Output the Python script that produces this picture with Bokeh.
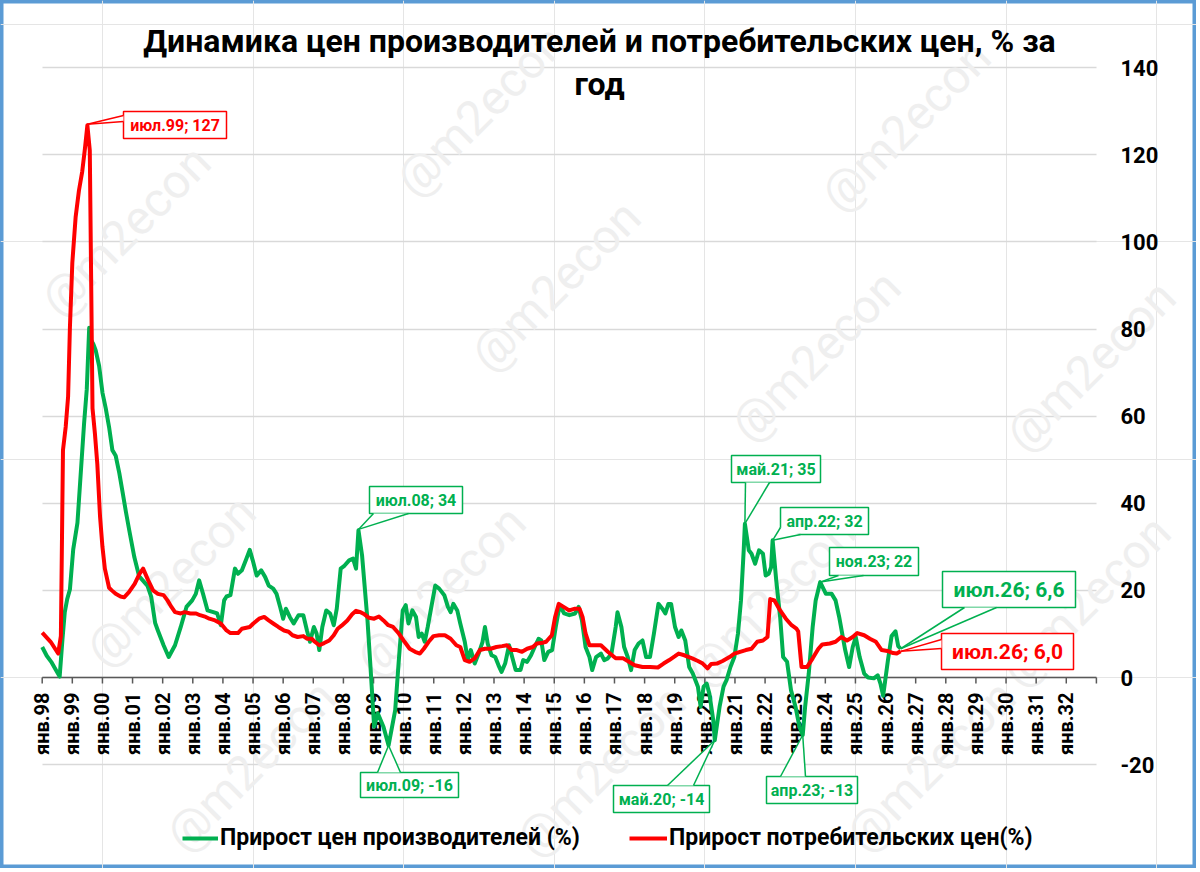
import math
from bokeh.plotting import figure
from bokeh.models import Range1d, Grid, FixedTicker, Legend, LegendItem
from bokeh.core.properties import value
from bokeh.embed import file_html
from bokeh.resources import INLINE

# ---------------- data ----------------
ppi_dates = [1998.00, 1998.15, 1998.30, 1998.45, 1998.58, 1998.67, 1998.75, 1998.83, 1998.92, 1999.03,
             1999.17, 1999.28, 1999.39, 1999.48, 1999.56, 1999.62, 1999.70, 1999.78, 1999.89, 2000.00,
             2000.11, 2000.22, 2000.33, 2000.44, 2000.56, 2000.67, 2000.78, 2000.89, 2001.06, 2001.22,
             2001.39, 2001.50, 2001.62, 2001.75, 2001.84, 2002.03, 2002.20, 2002.41, 2002.60, 2002.79,
             2002.98, 2003.10, 2003.21, 2003.34, 2003.49, 2003.68, 2003.81, 2003.93, 2004.04, 2004.12,
             2004.25, 2004.40, 2004.50, 2004.63, 2004.76, 2004.89, 2004.99, 2005.12, 2005.27, 2005.40,
             2005.52, 2005.67, 2005.78, 2005.90, 2006.00, 2006.09, 2006.22, 2006.35, 2006.51, 2006.67,
             2006.79, 2006.89, 2007.02, 2007.11, 2007.20, 2007.30, 2007.43, 2007.56, 2007.68, 2007.78,
             2007.91, 2008.04, 2008.19, 2008.32, 2008.42, 2008.50, 2008.62, 2008.80, 2008.90, 2009.02,
             2009.14, 2009.33, 2009.50, 2009.72, 2009.84, 2009.97, 2010.07, 2010.16, 2010.29, 2010.41,
             2010.50, 2010.60, 2010.70, 2010.80, 2010.92, 2011.05, 2011.18, 2011.35, 2011.47, 2011.56,
             2011.65, 2011.78, 2011.88, 2012.03, 2012.13, 2012.23, 2012.36, 2012.49, 2012.62, 2012.70,
             2012.79, 2012.92, 2013.04, 2013.15, 2013.25, 2013.37, 2013.50, 2013.63, 2013.72, 2013.88,
             2013.97, 2014.10, 2014.23, 2014.35, 2014.48, 2014.57, 2014.67, 2014.80, 2014.93, 2015.05,
             2015.18, 2015.33, 2015.50, 2015.69, 2015.81, 2015.92, 2016.04, 2016.17, 2016.26, 2016.39,
             2016.55, 2016.66, 2016.78, 2016.90, 2017.04, 2017.10, 2017.23, 2017.32, 2017.44, 2017.55,
             2017.67, 2017.80, 2017.93, 2018.05, 2018.18, 2018.31, 2018.46, 2018.59, 2018.69, 2018.79,
             2018.88, 2019.01, 2019.13, 2019.22, 2019.35, 2019.48, 2019.60, 2019.77, 2019.86, 2019.96,
             2020.06, 2020.15, 2020.28, 2020.33, 2020.49, 2020.62, 2020.72, 2020.85, 2020.98, 2021.10,
             2021.20, 2021.29, 2021.33, 2021.46, 2021.55, 2021.67, 2021.80, 2021.93, 2022.02, 2022.12,
             2022.20, 2022.25, 2022.37, 2022.50, 2022.60, 2022.73, 2022.86, 2023.01, 2023.14, 2023.25,
             2023.33, 2023.45, 2023.58, 2023.68, 2023.83, 2024.02, 2024.21, 2024.34, 2024.46, 2024.66,
             2024.79, 2024.91, 2025.01, 2025.14, 2025.29, 2025.42, 2025.61, 2025.74, 2025.83, 2025.92,
             2026.08, 2026.20, 2026.33, 2026.42, 2026.50]
ppi_values = [7.0, 5.0, 3.6, 1.8, 0.2, 8.5, 15.0, 18.0, 20.2, 29.4,
              35.5, 46.9, 58.3, 66.2, 80.3, 77.5, 76.5, 75.0, 71.5, 65.4,
              61.8, 57.5, 52.2, 50.9, 46.9, 42.5, 38.0, 33.8, 27.6, 23.2,
              21.9, 21.0, 18.5, 12.5, 10.8, 7.4, 4.7, 7.4, 11.6, 16.2,
              17.7, 19.2, 22.3, 19.2, 15.4, 15.0, 14.7, 12.0, 17.7, 18.6,
              18.9, 25.0, 23.8, 24.6, 26.9, 29.3, 26.9, 23.4, 24.6, 23.1,
              21.1, 20.4, 19.2, 16.2, 13.5, 15.8, 13.9, 12.4, 14.3, 14.3,
              10.8, 8.2, 11.6, 10.1, 6.3, 11.6, 15.4, 14.7, 12.0, 15.8,
              25.0, 25.7, 26.9, 27.3, 25.0, 33.8, 28.0, 13.1, 2.4, -11.3,
              -8.2, -11.3, -15.6, -7.5, 4.0, 15.4, 16.6, 12.4, 15.4, 13.9,
              9.3, 10.1, 8.2, 11.6, 16.2, 21.1, 20.4, 18.9, 16.2, 15.0,
              16.9, 15.4, 12.4, 8.2, 4.0, 6.3, 3.2, 5.5, 8.2, 11.6,
              7.8, 5.1, 4.7, 2.8, 1.3, 3.2, 7.4, 4.0, 1.7, 1.7,
              4.0, 3.6, 5.1, 7.0, 8.9, 8.5, 4.0, 5.9, 6.3, 11.6,
              16.6, 14.7, 14.3, 14.7, 16.2, 13.1, 7.0, 4.7, 1.7, 4.7,
              5.5, 4.0, 4.4, 5.5, 11.6, 15.0, 11.6, 7.0, 4.7, 1.7,
              6.3, 7.8, 8.5, 4.7, 4.7, 10.1, 16.9, 15.8, 14.7, 16.9,
              16.9, 11.6, 9.3, 10.8, 8.5, 2.4, 0.9, -2.1, -6.7, -2.1,
              -1.4, -3.7, -9.8, -14.4, -6.7, -2.1, -0.6, 2.4, 4.7, 10.1,
              17.7, 29.2, 35.3, 29.2, 28.4, 26.1, 29.2, 28.4, 23.4, 23.8,
              25.3, 31.5, 22.3, 13.9, 4.7, 3.6, -2.9, -6.7, -11.3, -13.2,
              -6.7, 0.9, 11.6, 17.7, 21.9, 19.2, 19.2, 17.7, 13.9, 6.3,
              2.4, 7.0, 9.3, 4.7, 0.9, 0.0, -0.2, 0.5, -1.4, -4.2,
              4.0, 9.5, 10.6, 7.2, 6.6]

cpi_dates = [1998.00, 1998.28, 1998.53, 1998.62, 1998.69, 1998.78, 1998.86, 1998.92, 1999.00, 1999.11,
             1999.22, 1999.33, 1999.42, 1999.50, 1999.58, 1999.67, 1999.75, 1999.83, 1999.92, 2000.00,
             2000.08, 2000.22, 2000.31, 2000.44, 2000.60, 2000.72, 2000.88, 2001.07, 2001.23, 2001.35,
             2001.52, 2001.68, 2001.84, 2002.03, 2002.16, 2002.29, 2002.41, 2002.60, 2002.73, 2002.92,
             2003.11, 2003.24, 2003.43, 2003.55, 2003.74, 2003.93, 2004.12, 2004.25, 2004.50, 2004.63,
             2004.89, 2005.01, 2005.20, 2005.37, 2005.52, 2005.67, 2005.84, 2006.03, 2006.18, 2006.31,
             2006.48, 2006.67, 2006.79, 2006.95, 2007.05, 2007.20, 2007.36, 2007.53, 2007.68, 2007.81,
             2007.94, 2008.13, 2008.29, 2008.42, 2008.57, 2008.70, 2008.85, 2009.02, 2009.18, 2009.33,
             2009.49, 2009.65, 2009.84, 2010.03, 2010.20, 2010.38, 2010.54, 2010.67, 2010.83, 2010.99,
             2011.18, 2011.37, 2011.56, 2011.75, 2011.88, 2012.03, 2012.19, 2012.36, 2012.53, 2012.70,
             2012.89, 2013.08, 2013.27, 2013.43, 2013.59, 2013.76, 2013.93, 2014.10, 2014.29, 2014.42,
             2014.57, 2014.73, 2014.92, 2015.03, 2015.15, 2015.31, 2015.50, 2015.69, 2015.84, 2015.94,
             2016.04, 2016.17, 2016.39, 2016.55, 2016.78, 2017.04, 2017.29, 2017.48, 2017.67, 2017.93,
             2018.18, 2018.44, 2018.63, 2018.82, 2019.01, 2019.13, 2019.32, 2019.58, 2019.77, 2019.93,
             2020.09, 2020.21, 2020.40, 2020.59, 2020.82, 2020.98, 2021.17, 2021.36, 2021.55, 2021.74,
             2021.93, 2022.08, 2022.17, 2022.31, 2022.50, 2022.69, 2022.88, 2023.04, 2023.10, 2023.21,
             2023.39, 2023.58, 2023.77, 2023.90, 2024.15, 2024.34, 2024.53, 2024.72, 2024.91, 2025.06,
             2025.29, 2025.48, 2025.68, 2025.87, 2026.06, 2026.25, 2026.37, 2026.50]
cpi_values = [10.3, 8.2, 5.5, 9.5, 52.2, 57.5, 64.5, 80.3, 95.2, 105.7,
              111.8, 116.2, 121.5, 126.8, 121.0, 61.8, 56.0, 49.0, 37.0, 30.0,
              25.0, 20.6, 20.0, 19.2, 18.6, 18.4, 19.6, 21.5, 23.8, 25.0,
              22.3, 20.0, 19.2, 18.9, 17.7, 16.2, 15.0, 14.7, 15.0, 14.7,
              14.7, 14.3, 13.9, 13.5, 13.1, 12.4, 10.8, 10.2, 10.2, 11.2,
              11.6, 12.4, 13.5, 13.9, 13.1, 12.4, 11.6, 10.8, 10.5, 9.7,
              9.3, 9.5, 8.9, 8.9, 8.2, 7.4, 7.9, 8.5, 9.7, 11.2,
              11.9, 13.1, 14.5, 15.3, 15.0, 14.5, 13.7, 13.5, 14.0, 13.1,
              12.0, 11.6, 10.1, 8.2, 6.6, 5.9, 5.5, 6.6, 8.2, 9.5,
              9.7, 9.7, 8.9, 7.4, 7.0, 4.0, 3.6, 4.4, 6.3, 6.6,
              6.6, 7.0, 7.2, 7.4, 6.3, 6.3, 5.9, 6.6, 7.0, 7.8,
              7.9, 8.2, 9.7, 13.9, 16.9, 16.2, 15.4, 15.8, 15.8, 13.9,
              10.1, 7.4, 7.4, 7.4, 5.9, 4.4, 4.4, 3.6, 2.8, 2.4,
              2.4, 2.3, 3.2, 4.0, 4.9, 5.5, 5.1, 4.4, 3.8, 3.2,
              2.1, 3.1, 3.2, 3.8, 4.7, 5.5, 5.9, 6.3, 6.6, 8.2,
              8.5, 9.3, 18.0, 17.7, 15.4, 13.5, 12.0, 11.2, 10.6, 2.4,
              2.4, 4.4, 6.6, 7.6, 7.8, 8.2, 9.3, 8.5, 9.3, 10.2,
              9.7, 8.9, 8.2, 6.3, 6.1, 5.6, 5.5, 6.0]

series_names = ["Прирост цен производителей (%)", "Прирост потребительских цен(%)"]
title_lines = ["Динамика цен производителей и потребительских цен, % за", "год"]

y_ticks = [-20, 0, 20, 40, 60, 80, 100, 120, 140]
y_tick_labels = ["-20", "0", "20", "40", "60", "80", "100", "120", "140"]
x_tick_years = list(range(1998, 2034))
x_label_years = list(range(1998, 2033))
x_tick_labels = ["янв.%02d" % (y % 100) for y in x_label_years]

# highlighted points (callouts)
ann_dates = [1999.50, 2008.50, 2009.50, 2020.33, 2021.33, 2022.25, 2023.25, 2023.83, 2026.50, 2026.50]
ann_values = [127, 34, -15.6, -14.4, 35.3, 31.5, -13.2, 21.9, 6.6, 6.0]
ann_labels = ["июл.99; 127", "июл.08; 34", "июл.09; -16", "май.20; -14", "май.21; 35",
              "апр.22; 32", "апр.23; -13", "ноя.23; 22", "июл.26; 6,6", "июл.26; 6,0"]
ann_series = ["cpi", "ppi", "ppi", "ppi", "ppi", "ppi", "ppi", "ppi", "ppi", "cpi"]

# ---------------- styling / layout ----------------
GREEN = "#00B050"
RED = "#FF0000"
FONT = "Roboto"
W, H = 1196, 868
X0_PX, PX_PER_YEAR = 41.7, 30.12      # pixel of jan.98 and pixels per year
Y0_PX, PX_PER_UNIT = 677.0, 4.356     # pixel of 0 % and pixels per percent


def px_to_x(px):
    return 1998 + (px - X0_PX) / PX_PER_YEAR


def py_to_y(py):
    return (Y0_PX - py) / PX_PER_UNIT


# callout boxes (pixels): box l,t,r,b ; wedge base points ; font size
callout_layout = [
    ((123, 111, 226, 138), ((123, 115), (123, 121)), 16),
    ((369, 486, 462, 513), ((373, 513), (408, 513)), 16),
    ((360, 772, 458, 797), ((377, 772), (400, 772)), 16),
    ((613, 785, 709, 812), ((667, 785), (693, 785)), 16),
    ((731, 455, 820, 482), ((745, 482), (769, 482)), 16),
    ((780, 507, 868, 534), ((780, 527), (800, 534)), 16),
    ((766, 776, 857, 803), ((780, 776), (805, 776)), 16),
    ((829, 547, 918, 575), ((838, 575), (863, 575)), 16),
    ((942, 571, 1075, 607), ((964, 607), (996, 607)), 21),
    ((941, 633, 1073, 669), ((941, 639), (941, 648)), 21),
]

watermark_centers = [(125, 230), (480, 110), (905, 125), (555, 285), (815, 355), (1090, 365),
                     (170, 580), (440, 590), (770, 600), (1085, 600), (250, 765), (600, 770), (930, 765)]

p = figure(width=W, height=H,
           x_range=Range1d(px_to_x(0), px_to_x(W)),
           y_range=Range1d(py_to_y(H), py_to_y(0)),
           x_axis_location=None, y_axis_location=None,
           output_backend="svg", toolbar_location=None, min_border=0)
p.title.visible = False
p.background_fill_color = "white"
p.border_fill_color = "white"
p.outline_line_color = "#5B9BD5"
p.outline_line_width = 6

# horizontal gridlines
grid = Grid(dimension=1, ticker=FixedTicker(ticks=y_ticks), cross_bounds=(1998, 2033),
            grid_line_color="#D9D9D9", grid_line_width=1.5)
p.add_layout(grid)

# watermark
p.text(x=[px_to_x(c[0]) for c in watermark_centers], y=[py_to_y(c[1]) for c in watermark_centers],
       text=["@m2econ"] * len(watermark_centers), angle=math.pi / 4,
       text_align="center", text_baseline="middle", text_font=value(FONT),
       text_font_size="48px", text_color="#EFEFEF")

# x axis drawn at zero
p.segment(x0=[x_tick_years[0]], y0=[0], x1=[x_tick_years[-1]], y1=[0], line_color="#595959", line_width=1.5)
tick_len = 6 / PX_PER_UNIT
p.segment(x0=x_tick_years, y0=[0] * len(x_tick_years), x1=x_tick_years, y1=[-tick_len] * len(x_tick_years),
          line_color="#595959", line_width=1.5)
p.text(x=x_label_years, y=[0] * len(x_label_years), text=x_tick_labels, angle=math.pi / 2,
       y_offset=15, text_align="right", text_baseline="middle", text_font=value(FONT),
       text_font_style="bold", text_font_size="20px", text_color="black")

# y labels on the right
p.text(x=[x_tick_years[-1]] * len(y_ticks), y=y_ticks, text=y_tick_labels, x_offset=24,
       text_align="left", text_baseline="middle", text_font=value(FONT),
       text_font_style="bold", text_font_size="22px", text_color="black")

# title
p.text(x=[px_to_x(599), px_to_x(599)], y=[py_to_y(40), py_to_y(83)], text=title_lines,
       text_align="center", text_baseline="middle", text_font=value(FONT),
       text_font_style="bold", text_font_size="32px", text_color="black")

# series
g = p.line(ppi_dates, ppi_values, line_color=GREEN, line_width=4, line_join="round")
r = p.line(cpi_dates, cpi_values, line_color=RED, line_width=4, line_join="round")

# callouts
for i, (box, base, fs) in enumerate(callout_layout):
    col = RED if ann_series[i] == "cpi" else GREEN
    l, t, rr, b = box
    p.quad(left=[px_to_x(l)], right=[px_to_x(rr)], top=[py_to_y(t)], bottom=[py_to_y(b)],
           fill_color="white", line_color=col, line_width=1.5)
    ax, ay = ann_dates[i], ann_values[i]
    bx = [px_to_x(base[0][0]), px_to_x(base[1][0])]
    by = [py_to_y(base[0][1]), py_to_y(base[1][1])]
    p.patch(x=[ax, bx[0], bx[1]], y=[ay, by[0], by[1]], fill_color="white", line_color=None)
    p.segment(x0=[ax, ax], y0=[ay, ay], x1=bx, y1=by, line_color=col, line_width=1.5)
    p.text(x=[px_to_x((l + rr) / 2)], y=[py_to_y((t + b) / 2)], text=[ann_labels[i]],
           text_align="center", text_baseline="middle", text_font=value(FONT),
           text_font_style="bold", text_font_size=f"{fs}px", text_color=col)

# legends
common = dict(padding=0, margin=0, spacing=0, glyph_height=20, label_height=20,
              label_text_font=FONT, label_text_font_style="bold", label_text_font_size="23px",
              label_text_color="black", border_line_alpha=0, background_fill_alpha=0,
              label_standoff=2, orientation="horizontal")
leg1 = Legend(items=[LegendItem(label=series_names[0], renderers=[g])], location=(182, 17),
              glyph_width=36, **common)
leg2 = Legend(items=[LegendItem(label=series_names[1], renderers=[r])], location=(629, 17),
              glyph_width=38, **common)
p.add_layout(leg1)
p.add_layout(leg2)

open("out.html", "w").write(file_html(p, INLINE))
